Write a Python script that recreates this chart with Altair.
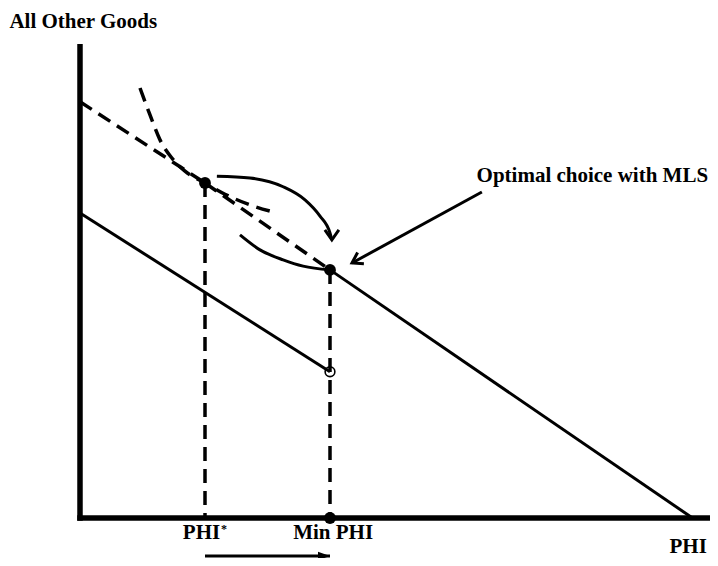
import altair as alt
import pandas as pd

# ---- scale domains (abstract units: 1 unit on both axes) ----
X_DOMAIN = [-1.152, 10.08]
Y_DOMAIN = [-0.64, 8.16]

# ---- key economic points ----
phi_star = 2.0          # PHI*
min_phi = 4.0           # Min PHI
y_at_phi_star = 5.36    # all other goods at PHI* (original optimum)
y_at_min_phi = 3.97     # all other goods at Min PHI (optimum with MLS)
y_lower_end = 2.34      # lower budget line end at Min PHI (open circle)

# budget line (dashed up to Min PHI, then solid to the PHI intercept)
budget_dash_x = [0.0, phi_star, min_phi]
budget_dash_y = [6.66, y_at_phi_star, y_at_min_phi]
budget_solid_x = [min_phi, 9.8]
budget_solid_y = [y_at_min_phi, 0.0]

# lower budget line
lower_x = [0.0, min_phi]
lower_y = [4.88, y_lower_end]

# indifference curve through original optimum (dashed)
ic1_x = [0.96, 1.12, 1.28, 1.47, 1.68, 2.0, 2.32, 2.72, 3.15]
ic1_y = [6.88, 6.45, 6.05, 5.76, 5.55, 5.36, 5.18, 5.01, 4.88]

# indifference curve through MLS optimum (solid)
ic2_x = [2.56, 2.88, 3.25, 3.57, 4.0]
ic2_y = [4.53, 4.29, 4.13, 4.03, 3.97]

# curved arrow between the optima
arc_x = [2.19, 2.72, 3.25, 3.60, 3.84, 4.0, 4.03]
arc_y = [5.47, 5.44, 5.30, 5.09, 4.83, 4.56, 4.45]

# pointer arrow to "Optimal choice with MLS"
pointer_x = [6.43, 4.352]
pointer_y = [5.216, 4.08]

# arrow below the PHI axis
shift_x = [2.0, 4.0]
shift_y = [-0.608, -0.608]

# axes extents
x_axis_end = 10.05
y_axis_end = 7.54

# labels
labels_left = ["All Other Goods", "*"]
labels_left_x = [-1.13, 2.256]
labels_left_y = [7.84, -0.24]
labels_left_size = [21, 12]
labels_center = ["PHI", "Min PHI"]
labels_center_x = [1.944, 4.05]
labels_center_y = [-0.336, -0.336]
labels_right = ["Optimal choice with MLS", "PHI"]
labels_right_x = [10.05, 10.03]
labels_right_y = [5.376, -0.56]

xs = alt.Scale(domain=X_DOMAIN, nice=False, zero=False)
ys = alt.Scale(domain=Y_DOMAIN, nice=False, zero=False)

FONT = "Liberation Serif"


def enc_xy():
    return dict(x=alt.X("x:Q", scale=xs, axis=None), y=alt.Y("y:Q", scale=ys, axis=None))


def seg_df(xs_, ys_):
    return pd.DataFrame({"x": [xs_[i] for i in range(len(xs_) - 1)],
                         "y": [ys_[i] for i in range(len(ys_) - 1)],
                         "x2": [xs_[i + 1] for i in range(len(xs_) - 1)],
                         "y2": [ys_[i + 1] for i in range(len(ys_) - 1)]})


# axes
axes_df = pd.DataFrame({"x": [0.0, 0.0], "y": [y_axis_end, 0.0],
                        "x2": [0.0, x_axis_end], "y2": [0.0, 0.0]})
axes = alt.Chart(axes_df).mark_rule(color="black", strokeWidth=5.5, strokeCap="square").encode(
    **enc_xy(), x2="x2:Q", y2="y2:Q")

# solid straight segments
solid_df = pd.concat([seg_df(budget_solid_x, budget_solid_y), seg_df(lower_x, lower_y),
                      seg_df(pointer_x, pointer_y), seg_df(shift_x, shift_y)], ignore_index=True)
solid = alt.Chart(solid_df).mark_rule(color="black", strokeWidth=3).encode(
    **enc_xy(), x2="x2:Q", y2="y2:Q")

# dashed straight segments
dash_df = pd.concat([seg_df(budget_dash_x, budget_dash_y),
                     seg_df([phi_star, phi_star], [y_at_phi_star, 0.0]),
                     seg_df([min_phi, min_phi], [y_at_min_phi, 0.0])], ignore_index=True)
dashed = alt.Chart(dash_df).mark_rule(color="black", strokeWidth=3.5, strokeDash=[14, 8]).encode(
    **enc_xy(), x2="x2:Q", y2="y2:Q")

# curves
ic1_df = pd.DataFrame({"x": ic1_x, "y": ic1_y, "i": range(len(ic1_x))})
ic1 = alt.Chart(ic1_df).mark_line(color="black", strokeWidth=3.5, strokeDash=[14, 8],
                                  interpolate="monotone").encode(**enc_xy(), order="i:Q")

curves_df = pd.concat([
    pd.DataFrame({"x": ic2_x, "y": ic2_y, "c": "ic2", "i": range(len(ic2_x))}),
    pd.DataFrame({"x": arc_x, "y": arc_y, "c": "arc", "i": range(len(arc_x))}),
], ignore_index=True)
curves = alt.Chart(curves_df).mark_line(color="black", strokeWidth=3, interpolate="monotone").encode(
    **enc_xy(), detail="c:N", order="i:Q")

# dots
dots_df = pd.DataFrame({"x": [phi_star, min_phi, min_phi], "y": [y_at_phi_star, y_at_min_phi, 0.0]})
dots = alt.Chart(dots_df).mark_point(shape="circle", filled=True, color="black", size=140,
                                     opacity=1).encode(**enc_xy())
open_df = pd.DataFrame({"x": [min_phi], "y": [y_lower_end]})
open_c = alt.Chart(open_df).mark_point(shape="circle", filled=False, color="black", size=95,
                                       strokeWidth=1.6, opacity=1).encode(**enc_xy())

# arrowheads
chev_df = pd.DataFrame({"x": [arc_x[-1]], "y": [arc_y[-1]]})
chev1 = alt.Chart(chev_df).mark_point(shape="M-1.4,-2L0,0L1.4,-2", filled=False, color="black",
                                      strokeWidth=3, size=100, opacity=1).encode(**enc_xy())
chev2_df = pd.DataFrame({"x": [pointer_x[-1]], "y": [pointer_y[-1]]})
chev2 = alt.Chart(chev2_df).mark_point(shape="M-1.3,-2L0,0L1.3,-2", filled=False, color="black",
                                       strokeWidth=3, size=100, angle=61, opacity=1).encode(**enc_xy())
tri_df = pd.DataFrame({"x": [shift_x[-1]], "y": [shift_y[-1]]})
tri = alt.Chart(tri_df).mark_point(shape="M-0.7,-2L0,0L0.7,-2Z", filled=True, color="black",
                                   size=144, angle=270, opacity=1).encode(**enc_xy())

# texts
tl_df = pd.DataFrame({"x": labels_left_x, "y": labels_left_y, "t": labels_left, "s": labels_left_size})
tl = alt.Chart(tl_df).mark_text(align="left", baseline="alphabetic", font=FONT, fontWeight="bold",
                                color="black").encode(**enc_xy(), text="t:N",
                                                      size=alt.Size("s:Q", scale=None, legend=None))
tc_df = pd.DataFrame({"x": labels_center_x, "y": labels_center_y, "t": labels_center})
tc = alt.Chart(tc_df).mark_text(align="center", baseline="alphabetic", font=FONT, fontWeight="bold",
                                fontSize=21, color="black").encode(**enc_xy(), text="t:N")
tr_df = pd.DataFrame({"x": labels_right_x, "y": labels_right_y, "t": labels_right})
tr = alt.Chart(tr_df).mark_text(align="right", baseline="alphabetic", font=FONT, fontWeight="bold",
                                fontSize=21, color="black").encode(**enc_xy(), text="t:N")

chart = alt.layer(axes, dashed, ic1, solid, curves, dots, open_c, chev1, chev2, tri, tl, tc, tr).properties(
    width=702, height=550, autosize=alt.AutoSizeParams(type="none"), padding=0
).configure_view(stroke=None)

chart.save("out.html", embed_options={"renderer": "svg", "actions": False})
